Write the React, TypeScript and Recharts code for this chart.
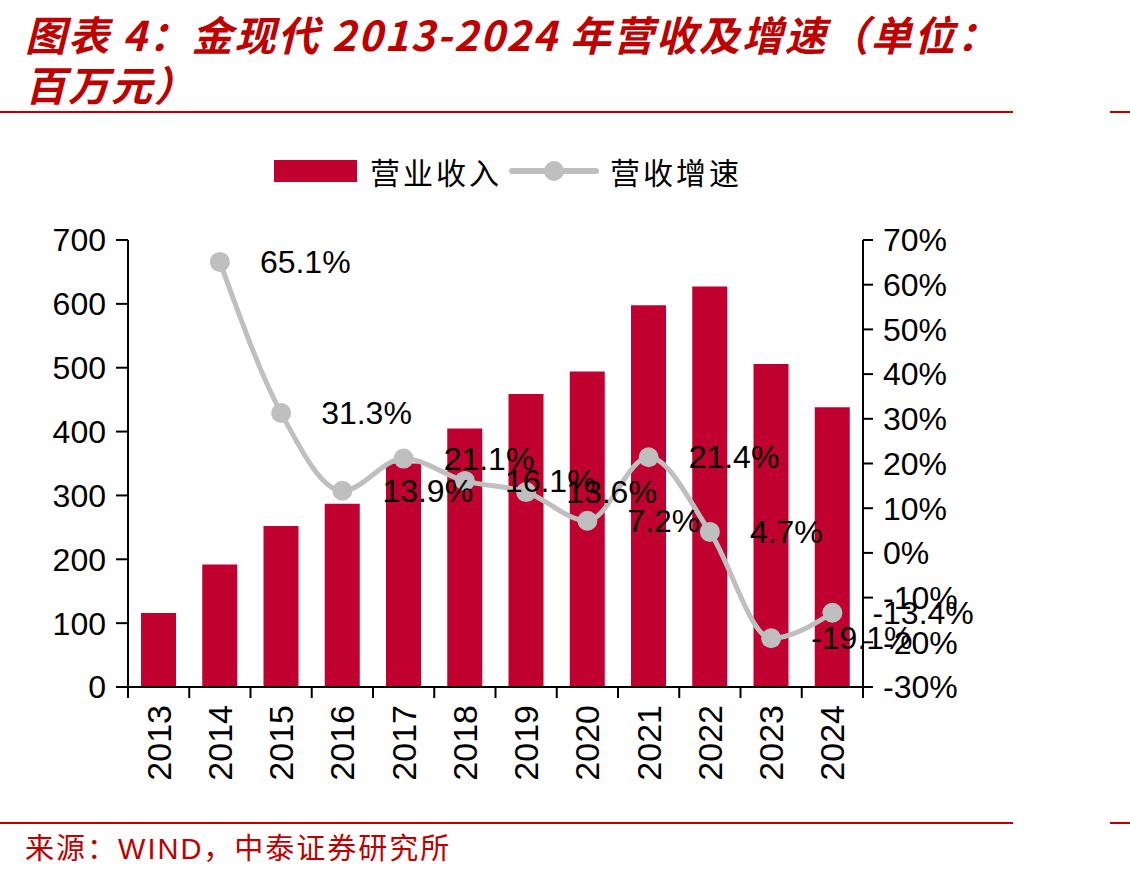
import React from 'react';
import { ComposedChart, Bar, Line, XAxis, YAxis, LabelList } from 'recharts';

const years = ['2013', '2014', '2015', '2016', '2017', '2018', '2019', '2020', '2021', '2022', '2023', '2024'];
const revenue = [116, 192, 252, 287, 350, 405, 459, 494, 598, 627, 506, 438];
const growth: (number | null)[] = [null, 65.1, 31.3, 13.9, 21.1, 16.1, 13.6, 7.2, 21.4, 4.7, -19.1, -13.4];
const leftTicks = [0, 100, 200, 300, 400, 500, 600, 700];
const rightTicks = [-30, -20, -10, 0, 10, 20, 30, 40, 50, 60, 70];

const data = years.map((y, i) => ({ year: y, revenue: revenue[i], growth: growth[i] }));

const W = 1130;
const H = 876;
const PLOT_LEFT = 128;
const PLOT_RIGHT = 863;
const PLOT_TOP = 240;
const PLOT_BOTTOM = 687;
const BAND = (PLOT_RIGHT - PLOT_LEFT) / years.length;

const RED = '#C00000';
const BAR = '#C0002F';
const GRAY = '#BFBFBF';
const NUM_FONT = '"Liberation Sans", Arial, sans-serif';
const CJK_FONT = '"Noto Sans CJK SC", sans-serif';

const XTick = (props: any) => {
  const { x, y, payload, index } = props;
  const ty = y + 18;
  return (
    <g>
      <line x1={x - BAND / 2} y1={y} x2={x - BAND / 2} y2={y + 11} stroke="#000" strokeWidth={2} />
      {index === years.length - 1 && (
        <line x1={x + BAND / 2} y1={y} x2={x + BAND / 2} y2={y + 11} stroke="#000" strokeWidth={2} />
      )}
      <text
        x={x}
        y={ty}
        transform={`rotate(-90, ${x}, ${ty})`}
        textAnchor="end"
        dominantBaseline="central"
        fontSize={34}
        fontFamily={NUM_FONT}
        fill="#000"
      >
        {payload.value}
      </text>
    </g>
  );
};

const GrowthLabel = (props: any) => {
  const { x, y, value } = props;
  if (value === null || value === undefined) return null;
  return (
    <text
      x={x + 40}
      y={y}
      dominantBaseline="central"
      fontSize={32}
      fontFamily={NUM_FONT}
      fill="#000"
    >
      {`${Number(value).toFixed(1)}%`}
    </text>
  );
};

export default function App() {
  return (
    <div style={{ position: 'absolute', left: 0, top: 0, width: W, height: H, background: '#fff', overflow: 'hidden' }}>
      {/* Title */}
      <div
        style={{
          position: 'absolute',
          left: 25,
          top: 8,
          color: RED,
          fontFamily: CJK_FONT,
          fontWeight: 700,
          fontStyle: 'italic',
          fontSize: 41,
          letterSpacing: 2,
          lineHeight: '50px',
          whiteSpace: 'nowrap',
        }}
      >
        图表 4：金现代 2013-2024 年营收及增速（单位：
        <br />
        百万元）
      </div>
      <div style={{ position: 'absolute', left: 0, top: 111, width: 1013, height: 2, background: RED }} />
      <div style={{ position: 'absolute', left: 1110, top: 111, width: 20, height: 2, background: RED }} />

      {/* Legend */}
      <div style={{ position: 'absolute', left: 0, top: 140, width: W, height: 60 }}>
        <svg width={W} height={60}>
          <rect x={274} y={20} width={83} height={22} fill={BAR} />
          <text x={370} y={31} dominantBaseline="central" fontSize={30} letterSpacing={3} fontFamily={CJK_FONT} fill="#000">营业收入</text>
          <line x1={512} y1={31} x2={596} y2={31} stroke={GRAY} strokeWidth={6} strokeLinecap="round" />
          <circle cx={554} cy={31} r={10} fill={GRAY} />
          <text x={610} y={31} dominantBaseline="central" fontSize={30} letterSpacing={3} fontFamily={CJK_FONT} fill="#000">营收增速</text>
        </svg>
      </div>

      <div style={{ position: 'absolute', left: 0, top: 0 }}>
        <ComposedChart
          width={W}
          height={H}
          data={data}
          margin={{ top: PLOT_TOP, bottom: H - PLOT_BOTTOM - 100, left: PLOT_LEFT - 80, right: W - PLOT_RIGHT - 120 }}
        >
          <XAxis
            dataKey="year"
            interval={0}
            height={100}
            tickLine={false}
            tickSize={0}
            tickMargin={0}
            axisLine={{ stroke: '#000', strokeWidth: 2 }}
            tick={<XTick />}
          />
          <YAxis
            yAxisId="l"
            width={80}
            domain={[0, 700]}
            ticks={leftTicks}
            interval={0}
            tickSize={12}
            tickMargin={10}
            axisLine={{ stroke: '#000', strokeWidth: 2 }}
            tickLine={{ stroke: '#000', strokeWidth: 2 }}
            tick={{ fill: '#000', fontSize: 32, fontFamily: NUM_FONT }}
          />
          <YAxis
            yAxisId="r"
            orientation="right"
            width={120}
            domain={[-30, 70]}
            ticks={rightTicks}
            interval={0}
            tickSize={10}
            tickMargin={10}
            tickFormatter={(v: number) => `${v}%`}
            axisLine={{ stroke: '#000', strokeWidth: 2 }}
            tickLine={{ stroke: '#000', strokeWidth: 2 }}
            tick={{ fill: '#000', fontSize: 32, fontFamily: NUM_FONT }}
          />
          <Bar yAxisId="l" dataKey="revenue" fill={BAR} barSize={35} isAnimationActive={false} />
          <Line
            yAxisId="r"
            dataKey="growth"
            type="monotone"
            stroke={GRAY}
            strokeWidth={5}
            dot={{ r: 10, fill: GRAY, stroke: 'none' }}
            activeDot={false}
            isAnimationActive={false}
          >
            <LabelList dataKey="growth" content={<GrowthLabel />} />
          </Line>
        </ComposedChart>
      </div>

      {/* Footer */}
      <div style={{ position: 'absolute', left: 0, top: 822, width: 1013, height: 2, background: RED }} />
      <div style={{ position: 'absolute', left: 1110, top: 822, width: 20, height: 2, background: RED }} />
      <div
        style={{
          position: 'absolute',
          left: 25,
          top: 828,
          color: RED,
          fontFamily: CJK_FONT,
          fontSize: 29,
          letterSpacing: 2,
          lineHeight: '36px',
          whiteSpace: 'nowrap',
        }}
      >
        来源：<span style={{ fontFamily: NUM_FONT }}>WIND</span>，中泰证券研究所
      </div>
    </div>
  );
}
